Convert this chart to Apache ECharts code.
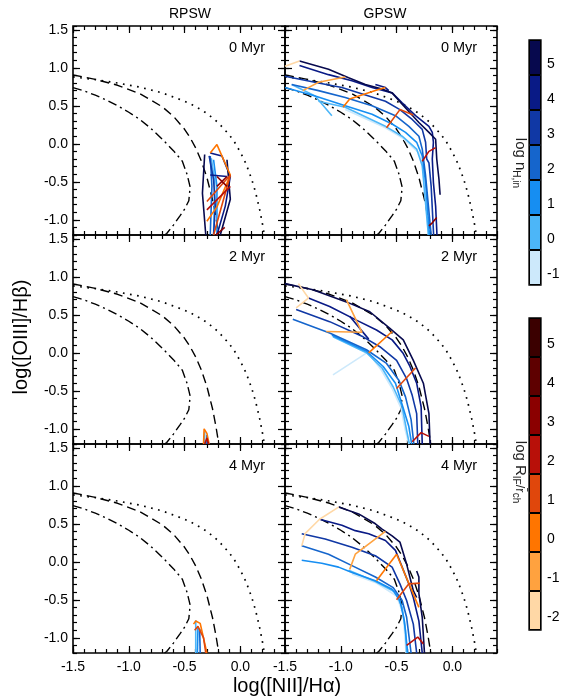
<!DOCTYPE html>
<html><head><meta charset="utf-8">
<script src="https://cdn.jsdelivr.net/npm/echarts@6/dist/echarts.min.js"></script>
<style>html,body{margin:0;padding:0;background:#fff}#c{width:569px;height:696px}</style>
</head><body><div id="c"></div>
<script>
// ---------- axis / labels ----------
const xMajor = [-1.5, -1.0, -0.5, 0.0];
const yMajor = [-1.0, -0.5, 0.0, 0.5, 1.0, 1.5];
const X_MIN = -1.5, X_MAX = 0.4, Y_MIN = -1.2, Y_MAX = 1.55;
const columnTitles = ['RPSW', 'GPSW'];
const ageLabels = ['0 Myr', '2 Myr', '4 Myr'];
const nLevels = [-1, 0, 1, 2, 3, 4, 5];
const rLevels = [-2, -1, 0, 1, 2, 3, 4, 5];
const nColors = ['#cde9fb', '#4cb6f8', '#168ef2', '#1565cc', '#1038a5', '#091a86', '#07094e'];
const rColors = ['#ffd8a6', '#ffa23f', '#ff7500', '#e0470c', '#b81009', '#8b0000', '#5e0000', '#3b0000'];

// ---------- reference demarcation curves ----------
const kewley01 = [[-1.5,0.88],[-1.3,0.845],[-1.1,0.80],[-0.9,0.745],[-0.7,0.67],[-0.5,0.56],[-0.4,0.49],[-0.3,0.40],[-0.2,0.28],[-0.1,0.12],[-0.05,0.017],[0.0,-0.11],[0.05,-0.26],[0.1,-0.46],[0.125,-0.58],[0.15,-0.72],[0.175,-0.88],[0.2,-1.07],[0.215,-1.2]];
const kauffmann03 = [[-1.5,0.906],[-1.3,0.848],[-1.1,0.77],[-0.9,0.658],[-0.7,0.487],[-0.6,0.362],[-0.5,0.191],[-0.45,0.08],[-0.4,-0.056],[-0.35,-0.225],[-0.3,-0.443],[-0.25,-0.733],[-0.22,-0.96],[-0.2,-1.14],[-0.194,-1.2]];
const innerCurve = [[-1.5,0.74],[-1.4,0.695],[-1.3,0.64],[-1.2,0.575],[-1.1,0.50],[-1.0,0.415],[-0.9,0.32],[-0.8,0.20],[-0.7,0.06],[-0.6,-0.09],[-0.52,-0.23],[-0.478,-0.40],[-0.45,-0.57],[-0.462,-0.75],[-0.50,-0.86],[-0.54,-0.945],[-0.60,-1.07],[-0.66,-1.18],[-0.68,-1.2]];

// ---------- RPSW 0 Myr ----------
const r0_n5 = [[-0.32,-0.14],[-0.34,-0.65],[-0.31,-1.2]];
const r0_n5b = [[-0.12,-0.21],[-0.09,-0.73],[-0.18,-1.2]];
const r0_n4 = [[-0.27,-0.12],[-0.165,-0.16],[-0.09,-0.43],[-0.135,-0.82],[-0.21,-1.2]];
const r0_n4b = [[-0.27,-0.41],[-0.12,-0.43]];
const r0_n3 = [[-0.28,-0.16],[-0.24,-0.47],[-0.225,-0.82],[-0.24,-1.2]];
const r0_n2 = [[-0.27,-0.16],[-0.255,-0.56],[-0.27,-1.2]];
const r0_n1 = [[-0.24,-0.21],[-0.21,-0.56],[-0.21,-1.2]];
const r0_n0 = [[-0.26,-0.19],[-0.23,-0.50],[-0.24,-1.2]];
const r0_r0 = [[-0.27,-0.12],[-0.21,-0.01],[-0.09,-0.41],[-0.21,-0.83],[-0.30,-1.02]];
const r0_r1 = [[-0.30,-0.76],[-0.09,-0.41],[-0.24,-1.2]];
const r0_r2 = [[-0.30,-0.87],[-0.09,-0.56]];
const r0_r3 = [[-0.21,-0.43],[-0.12,-0.56]];
const r0_r3b = [[-0.21,-0.56],[-0.12,-0.43]];
const r0_r3c = [[-0.22,-1.2],[-0.14,-1.1]];
// ---------- RPSW 2 Myr ----------
const r2_n0 = [[-0.32,-1.04],[-0.32,-1.2]];
const r2_n2 = [[-0.30,-1.08],[-0.30,-1.2]];
const r2_r0 = [[-0.33,-1.2],[-0.325,-1.0],[-0.30,-1.06],[-0.28,-1.2]];
const r2_r2 = [[-0.32,-1.2],[-0.30,-1.12],[-0.285,-1.2]];
// ---------- RPSW 4 Myr ----------
const r4_n0 = [[-0.40,-0.77],[-0.40,-1.2]];
const r4_n1 = [[-0.38,-0.86],[-0.385,-1.2]];
const r4_n2 = [[-0.365,-0.88],[-0.36,-1.2]];
const r4_r0 = [[-0.42,-0.82],[-0.40,-0.78],[-0.36,-0.81],[-0.30,-1.2]];
const r4_r1 = [[-0.41,-0.90],[-0.38,-0.85],[-0.33,-1.0],[-0.31,-1.2]];

// ---------- GPSW 0 Myr ----------
const g0_n5 = [[-1.37,1.09],[-1.11,0.98],[-0.93,0.87],[-0.78,0.78],[-0.63,0.72],[-0.54,0.67],[-0.45,0.52],[-0.30,0.28],[-0.21,0.15],[-0.15,0.06],[-0.14,-0.20],[-0.12,-0.47],[-0.11,-0.67]];
const g0_n4 = [[-1.37,1.03],[-1.11,0.91],[-0.90,0.83],[-0.72,0.74],[-0.54,0.67],[-0.45,0.54],[-0.33,0.37],[-0.21,0.23],[-0.18,0.15],[-0.17,0.02],[-0.18,-0.20],[-0.17,-0.51],[-0.15,-0.82],[-0.138,-1.2]];
const g0_n4b = [[-0.69,0.78],[-0.60,0.74],[-0.57,0.70]];
const g0_n3 = [[-1.5,0.89],[-1.20,0.80],[-0.99,0.74],[-0.75,0.63],[-0.60,0.56],[-0.47,0.45],[-0.36,0.32],[-0.27,0.19],[-0.24,0.02],[-0.23,-0.20],[-0.21,-0.25],[-0.19,-0.56],[-0.168,-1.2]];
const g0_n2 = [[-1.44,0.78],[-1.20,0.70],[-0.96,0.61],[-0.72,0.50],[-0.51,0.37],[-0.39,0.23],[-0.30,0.10],[-0.27,-0.07],[-0.24,-0.42],[-0.19,-1.2]];
const g0_n1 = [[-1.5,0.74],[-1.23,0.63],[-0.96,0.50],[-0.72,0.39],[-0.54,0.26],[-0.42,0.15],[-0.32,0.02],[-0.27,-0.16],[-0.24,-0.51],[-0.205,-1.2]];
const g0_n0 = [[-1.20,0.56],[-0.96,0.48],[-0.60,0.23],[-0.45,0.10],[-0.32,-0.07],[-0.27,-0.29],[-0.215,-1.2]];
const g0_n0b = [[-1.44,0.78],[-1.23,0.63],[-1.08,0.37]];
const g0_nm1 = [[-0.96,0.45],[-0.60,0.21],[-0.45,0.08],[-0.30,-0.12],[-0.26,-0.34],[-0.215,-1.2]];
const g0_rm2 = [[-1.5,1.02],[-1.37,1.09]];
const g0_rm1 = [[-1.34,0.70],[-1.20,0.81],[-0.96,0.88]];
const g0_r0 = [[-0.98,0.48],[-0.92,0.59],[-0.69,0.70],[-0.60,0.74]];
const g0_r1 = [[-0.59,0.21],[-0.47,0.45],[-0.35,0.38]];
const g0_r2 = [[-0.27,-0.23],[-0.21,-0.10],[-0.15,-0.05]];
const g0_r3 = [[-0.21,-1.08],[-0.18,-1.04],[-0.14,-0.97]];
// ---------- GPSW 2 Myr ----------
const g2_n5 = [[-1.5,0.91],[-1.25,0.83],[-0.95,0.67],[-0.74,0.54],[-0.56,0.32],[-0.44,0.17],[-0.35,-0.10],[-0.26,-0.40],[-0.21,-0.80],[-0.20,-1.2]];
const g2_n4 = [[-1.29,0.72],[-1.10,0.61],[-0.86,0.43],[-0.68,0.30],[-0.54,0.17],[-0.44,-0.01],[-0.38,-0.18],[-0.32,-0.40],[-0.28,-0.71],[-0.27,-1.2]];
const g2_n4b = [[-0.92,0.48],[-0.75,0.18]];
const g2_n3 = [[-1.40,0.57],[-1.10,0.41],[-0.80,0.21],[-0.65,0.08],[-0.50,-0.10],[-0.41,-0.34],[-0.36,-0.56],[-0.32,-0.80],[-0.31,-1.2]];
const g2_n2 = [[-1.43,0.44],[-1.10,0.26],[-0.77,0.04],[-0.59,-0.14],[-0.48,-0.36],[-0.42,-0.58],[-0.37,-0.88],[-0.345,-1.2]];
const g2_n1 = [[-1.08,0.23],[-0.77,0.02],[-0.62,-0.18],[-0.51,-0.40],[-0.44,-0.73],[-0.39,-0.97],[-0.365,-1.2]];
const g2_n0 = [[-1.07,0.21],[-0.77,0.00],[-0.63,-0.20],[-0.53,-0.45],[-0.45,-0.71],[-0.41,-1.02],[-0.385,-1.2]];
const g2_nm1 = [[-0.75,-0.01],[-0.64,-0.22],[-0.54,-0.47],[-0.46,-0.73],[-0.42,-1.03],[-0.39,-1.2]];
const g2_nm1b = [[-1.07,-0.29],[-0.75,0.015]];
const g2_rm2 = [[-1.38,0.91],[-1.29,0.72],[-1.40,0.59]];
const g2_rm1 = [[-0.95,0.70],[-0.81,0.27],[-1.13,0.28]];
const g2_r0 = [[-0.75,0.00],[-0.54,0.28]];
const g2_r1 = [[-0.50,-0.47],[-0.33,-0.20]];
const g2_r2 = [[-0.36,-1.17],[-0.28,-1.05],[-0.21,-1.10]];
// ---------- GPSW 4 Myr ----------
const g4_n5 = [[-1.02,0.72],[-0.84,0.63],[-0.69,0.50],[-0.63,0.43],[-0.54,0.34],[-0.47,0.26],[-0.41,-0.03],[-0.35,-0.38],[-0.32,-0.47]];
const g4_n5b = [[-0.32,-0.12],[-0.30,-0.20],[-0.30,-0.42],[-0.27,-0.73],[-0.25,-1.2]];
const g4_n4 = [[-1.19,0.56],[-0.99,0.48],[-0.87,0.41],[-0.75,0.37],[-0.60,0.28],[-0.51,0.15],[-0.45,-0.07],[-0.39,-0.29],[-0.35,-0.47],[-0.30,-0.78],[-0.27,-1.2]];
const g4_n3 = [[-1.35,0.37],[-1.14,0.30],[-0.90,0.19],[-0.69,0.08],[-0.54,-0.07],[-0.47,-0.29],[-0.41,-0.51],[-0.35,-0.82],[-0.32,-1.2]];
const g4_n2 = [[-1.35,0.21],[-1.11,0.10],[-0.90,-0.05],[-0.69,-0.20],[-0.53,-0.34],[-0.45,-0.51],[-0.41,-0.73],[-0.37,-1.2]];
const g4_n1 = [[-1.35,0.02],[-1.17,-0.02],[-1.02,-0.07],[-0.90,-0.14],[-0.69,-0.25],[-0.54,-0.36],[-0.47,-0.51],[-0.43,-0.78],[-0.40,-1.2]];
const g4_n0 = [[-0.93,-0.11],[-0.69,-0.26],[-0.51,-0.40],[-0.45,-0.60],[-0.42,-0.91],[-0.41,-1.2]];
const g4_nm1 = [[-0.90,-0.16],[-0.68,-0.28],[-0.50,-0.45],[-0.44,-0.69],[-0.415,-1.2]];
const g4_rm2 = [[-1.02,0.72],[-1.19,0.56],[-1.32,0.37],[-1.35,0.21]];
const g4_rm1 = [[-0.60,0.40],[-0.87,0.10],[-0.92,-0.10]];
const g4_r0 = [[-0.50,0.10],[-0.68,-0.25]];
const g4_r0b = [[-0.50,0.10],[-0.30,-0.60]];
const g4_r1 = [[-0.50,-0.50],[-0.39,-0.29],[-0.29,-0.28]];
const g4_r2 = [[-0.41,-1.10],[-0.31,-0.99],[-0.26,-1.08]];

// [panel index, kind, level, data]
const tracks = [
  [0,'n',0,r0_n0],[0,'n',1,r0_n1],[0,'n',2,r0_n2],[0,'n',3,r0_n3],[0,'n',4,r0_n4],[0,'n',4,r0_n4b],[0,'n',5,r0_n5],[0,'n',5,r0_n5b],
  [0,'r',0,r0_r0],[0,'r',1,r0_r1],[0,'r',2,r0_r2],[0,'r',3,r0_r3],[0,'r',3,r0_r3b],[0,'r',3,r0_r3c],
  [2,'n',0,r2_n0],[2,'n',2,r2_n2],[2,'r',0,r2_r0],[2,'r',2,r2_r2],
  [4,'n',0,r4_n0],[4,'n',1,r4_n1],[4,'n',2,r4_n2],[4,'r',0,r4_r0],[4,'r',1,r4_r1],
  [1,'n',-1,g0_nm1],[1,'n',0,g0_n0],[1,'n',0,g0_n0b],[1,'n',1,g0_n1],[1,'n',2,g0_n2],[1,'n',3,g0_n3],[1,'n',4,g0_n4],[1,'n',4,g0_n4b],[1,'n',5,g0_n5],
  [1,'r',-2,g0_rm2],[1,'r',-1,g0_rm1],[1,'r',0,g0_r0],[1,'r',1,g0_r1],[1,'r',2,g0_r2],[1,'r',3,g0_r3],
  [3,'n',-1,g2_nm1],[3,'n',-1,g2_nm1b],[3,'n',0,g2_n0],[3,'n',1,g2_n1],[3,'n',2,g2_n2],[3,'n',3,g2_n3],[3,'n',4,g2_n4],[3,'n',4,g2_n4b],[3,'n',5,g2_n5],
  [3,'r',-2,g2_rm2],[3,'r',-1,g2_rm1],[3,'r',0,g2_r0],[3,'r',1,g2_r1],[3,'r',2,g2_r2],
  [5,'n',-1,g4_nm1],[5,'n',0,g4_n0],[5,'n',1,g4_n1],[5,'n',2,g4_n2],[5,'n',3,g4_n3],[5,'n',4,g4_n4],[5,'n',5,g4_n5],[5,'n',5,g4_n5b],
  [5,'r',-2,g4_rm2],[5,'r',-1,g4_rm1],[5,'r',0,g4_r0],[5,'r',0,g4_r0b],[5,'r',1,g4_r1],[5,'r',2,g4_r2]
];

// ---------- layout ----------
const FONT = '"Liberation Sans", Arial, Helvetica, sans-serif';
const colLeft = [73, 285], rowTop = [26, 235, 444], PW = 212, PH = 209;

const grids = [], xAxes = [], yAxes = [], series = [], graphics = [];

function mkAxis(dim, g, pos, major, showLabel) {
  const majors = dim === 'x' ? xMajor : yMajor;
  const ax = {
    gridIndex: g, type: 'value', position: pos,
    min: dim === 'x' ? X_MIN : Y_MIN, max: dim === 'x' ? X_MAX : Y_MAX,
    axisLine: { show: false, onZero: false }, splitLine: { show: false },
    axisTick: { show: true, inside: true, length: major ? 7 : 4, lineStyle: { color: '#000', width: 1.2 } },
    axisLabel: { show: false }
  };
  if (major) ax.axisTick.customValues = majors; else ax.interval = 0.1;
  if (showLabel) {
    ax.axisLabel = { show: true, customValues: majors, formatter: v => v.toFixed(1),
      color: '#000', fontSize: 14, fontFamily: FONT, margin: dim === 'x' ? 7 : 5 };
  }
  return ax;
}

for (let r = 0; r < 3; r++) {
  for (let c = 0; c < 2; c++) {
    const g = r * 2 + c;
    grids.push({ left: colLeft[c], top: rowTop[r], width: PW, height: PH, show: true,
      borderColor: '#000', borderWidth: 1.6, backgroundColor: 'transparent' });
    xAxes.push(mkAxis('x', g, 'bottom', true, r === 2));
    xAxes.push(mkAxis('x', g, 'bottom', false, false));
    xAxes.push(mkAxis('x', g, 'top', true, false));
    xAxes.push(mkAxis('x', g, 'top', false, false));
    yAxes.push(mkAxis('y', g, 'left', true, c === 0));
    yAxes.push(mkAxis('y', g, 'left', false, false));
    yAxes.push(mkAxis('y', g, 'right', true, false));
    yAxes.push(mkAxis('y', g, 'right', false, false));
    const refs = [[kewley01, [1.7, 5.5], 1.7], [kauffmann03, [9, 5], 1.4], [innerCurve, [9, 4, 2, 4], 1.4]];
    refs.forEach(([d, dash, w]) => series.push({
      type: 'line', xAxisIndex: g * 4, yAxisIndex: g * 4, data: d, symbol: 'none',
      silent: true, z: 2, lineStyle: { color: '#000', width: w, type: dash }
    }));
    graphics.push({ type: 'text', x: colLeft[c] + PW - 38, y: rowTop[r] + 22,
      style: { text: ageLabels[r], font: '14.5px ' + FONT, fill: '#000', align: 'center', verticalAlign: 'middle' } });
  }
}

tracks.forEach(([g, kind, lev, d]) => {
  const color = kind === 'n' ? nColors[nLevels.indexOf(lev)] : rColors[rLevels.indexOf(lev)];
  series.push({ type: 'line', xAxisIndex: g * 4, yAxisIndex: g * 4, data: d, symbol: 'none',
    silent: true, z: kind === 'n' ? 3 : 4, lineStyle: { color: color, width: 1.6 } });
});

// ---------- colour bars ----------
const bars = [
  { levels: nLevels, colors: nColors, top: 40, height: 245 },
  { levels: rLevels, colors: rColors, top: 318, height: 312 }
];
bars.forEach((b, i) => {
  const g = grids.length;
  grids.push({ left: 529, top: b.top, width: 12, height: b.height, show: true,
    borderColor: '#000', borderWidth: 1.3, backgroundColor: 'transparent' });
  xAxes.push({ gridIndex: g, type: 'value', min: 0, max: 1, show: false });
  yAxes.push({ gridIndex: g, type: 'category', position: 'right', data: b.levels.map(String),
    axisLine: { show: false, onZero: false }, axisTick: { show: false }, splitLine: { show: false },
    axisLabel: { color: '#000', fontSize: 14, fontFamily: FONT, margin: 6, verticalAlign: 'top' } });
  series.push({ type: 'bar', xAxisIndex: xAxes.length - 1, yAxisIndex: yAxes.length - 1,
    barWidth: '100%', barCategoryGap: 0, silent: true,
    itemStyle: { borderColor: '#000', borderWidth: 1 },
    data: b.levels.map((l, k) => ({ value: 1, itemStyle: { color: b.colors[k] } })) });
});

// ---------- titles ----------
graphics.push({ type: 'text', x: 190, y: 14, style: { text: columnTitles[0], font: '14px ' + FONT, fill: '#000', align: 'center', verticalAlign: 'middle' } });
graphics.push({ type: 'text', x: 385, y: 14, style: { text: columnTitles[1], font: '14px ' + FONT, fill: '#000', align: 'center', verticalAlign: 'middle' } });
graphics.push({ type: 'text', x: 287, y: 686, style: { text: 'log([NII]/Hα)', font: '20px ' + FONT, fill: '#000', align: 'center', verticalAlign: 'middle' } });
graphics.push({ type: 'text', x: 21, y: 337, rotation: Math.PI / 2, style: { text: 'log([OIII]/Hβ)', font: '20px ' + FONT, fill: '#000', align: 'center', verticalAlign: 'middle' } });
const richCB = {
  a: { fontSize: 15, fontFamily: FONT, fill: '#222', lineHeight: 18 },
  b: { fontSize: 13, fontFamily: FONT, fill: '#222', lineHeight: 18 },
  s: { fontSize: 10, fontFamily: FONT, fill: '#222', lineHeight: 10, padding: [8, 0, 0, 0] }
};
graphics.push({ type: 'text', x: 520, y: 163, rotation: -Math.PI / 2, style: {
  text: '{a|log n}{s|H,in}', align: 'center', verticalAlign: 'middle', rich: richCB } });
graphics.push({ type: 'text', x: 520, y: 472, rotation: -Math.PI / 2, style: {
  text: '{a|log R}{s|IF}{b|/r\u0304}{s|ch}', align: 'center', verticalAlign: 'middle', rich: richCB } });

const chart = echarts.init(document.getElementById('c'), null, { renderer: 'canvas' });
chart.setOption({
  animation: false, backgroundColor: '#fff',
  grid: grids, xAxis: xAxes, yAxis: yAxes, series: series, graphic: graphics
});
</script></body></html>
